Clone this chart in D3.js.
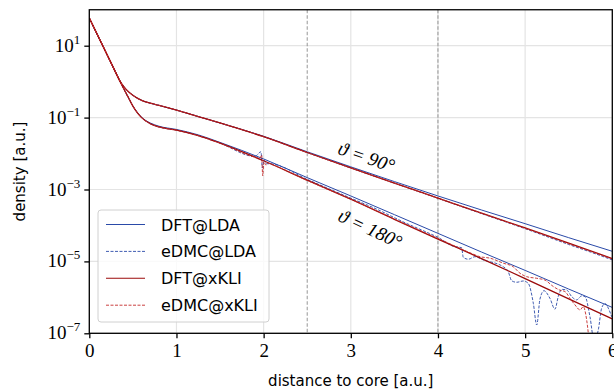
<!DOCTYPE html>
<html>
<head>
<meta charset="utf-8">
<script src="https://cdn.jsdelivr.net/npm/d3@7"></script>
<style>
  body { margin: 0; background: #fff; }
  svg { display: block; }
</style>
</head>
<body>
<svg id="chart" width="614" height="391"></svg>
<script>
// DFT grid (distance to core, a.u.)
const xDft = [0, 0.1, 0.2, 0.3, 0.35, 0.4, 0.45, 0.5, 0.55, 0.6, 0.7, 0.8, 1.0, 1.25, 1.5, 2.0, 2.5, 3.0, 3.5, 4.0, 4.5, 5.0, 5.5, 6.0];

// theta = 90 deg
const dftLda90 = [59, 18.6, 5.89, 1.86, 1.05, 0.708, 0.525, 0.417, 0.347, 0.302, 0.251, 0.219, 0.162, 0.107, 0.0708, 0.0302, 0.0112, 4.27e-3, 1.66e-3, 6.61e-4, 2.69e-4, 1.12e-4, 4.57e-5, 1.91e-5];
const dftKli90 = [59, 18.6, 5.89, 1.86, 1.05, 0.708, 0.525, 0.417, 0.347, 0.302, 0.251, 0.219, 0.162, 0.107, 0.0708, 0.0295, 0.0107, 3.98e-3, 1.51e-3, 5.75e-4, 2.19e-4, 8.51e-5, 3.24e-5, 1.20e-5];
// theta = 180 deg
const dftLda180 = [59, 18.6, 5.89, 1.86, 1.05, 0.603, 0.355, 0.209, 0.141, 0.102, 0.0708, 0.0575, 0.0468, 0.0331, 0.0204, 7.08e-3, 2.14e-3, 6.61e-4, 2.00e-4, 6.03e-5, 1.82e-5, 5.62e-6, 1.70e-6, 5.25e-7];
const dftKli180 = [59, 18.6, 5.89, 1.86, 1.05, 0.603, 0.355, 0.209, 0.138, 0.100, 0.0676, 0.0550, 0.0447, 0.0316, 0.0195, 6.31e-3, 1.82e-3, 5.37e-4, 1.48e-4, 4.17e-5, 1.20e-5, 3.31e-6, 9.12e-7, 2.51e-7];

// eDMC, theta = 90 deg
const xDmc90 = [0, 0.1, 0.2, 0.3, 0.35, 0.4, 0.45, 0.5, 0.55, 0.6, 0.7, 0.8, 1.0, 1.25, 1.5, 2.0, 2.5, 3.0, 3.5, 4.0, 4.5, 5.0, 5.25, 5.5, 5.75, 6.0];
const dmcLda90 = [59, 18.6, 5.89, 1.86, 1.05, 0.708, 0.525, 0.417, 0.347, 0.302, 0.251, 0.219, 0.162, 0.107, 0.0708, 0.0295, 0.0107, 3.98e-3, 1.51e-3, 5.70e-4, 2.14e-4, 8.13e-5, 4.90e-5, 2.95e-5, 1.82e-5, 1.10e-5];
const dmcKli90 = [59, 18.6, 5.89, 1.86, 1.05, 0.708, 0.525, 0.417, 0.347, 0.302, 0.251, 0.219, 0.162, 0.107, 0.0708, 0.0295, 0.0107, 3.98e-3, 1.51e-3, 5.75e-4, 2.19e-4, 8.32e-5, 5.13e-5, 3.09e-5, 1.91e-5, 1.17e-5];

// eDMC@LDA, theta = 180 deg
const xDmcLda180 = [0, 0.1, 0.2, 0.3, 0.35, 0.4, 0.45, 0.5, 0.55, 0.6, 0.7, 0.8, 1.0, 1.25, 1.5, 1.9, 1.97, 1.985, 2.005, 2.03, 2.1, 2.5, 3.0, 3.3, 3.6, 3.9, 4.0, 4.176, 4.272, 4.29, 4.348, 4.425, 4.52, 4.75, 4.807, 4.846, 4.903, 4.979, 5.036, 5.094, 5.133, 5.17, 5.216, 5.285, 5.342, 5.38, 5.419, 5.477, 5.534, 5.591, 5.649, 5.687, 5.744, 5.79, 5.839, 5.878, 5.916, 5.954, 5.993];
const dmcLda180 = [59, 18.6, 5.89, 1.86, 1.05, 0.603, 0.355, 0.209, 0.138, 0.100, 0.0676, 0.0550, 0.0447, 0.0316, 0.0195, 8.32e-3, 1.12e-2, 3.98e-3, 6.61e-3, 5.25e-3, 5.13e-3, 1.91e-3, 5.75e-4, 2.82e-4, 1.26e-4, 6.03e-5, 4.68e-5, 2.63e-5, 2.40e-5, 1.30e-5, 1.15e-5, 1.35e-5, 1.10e-5, 7.08e-6, 5.13e-6, 2.88e-6, 2.63e-6, 2.85e-6, 2.45e-6, 6.84e-7, 1.70e-7, 8.91e-7, 1.53e-6, 9.33e-7, 4.68e-7, 1.05e-6, 1.67e-6, 1.60e-6, 1.05e-6, 8.51e-7, 1.10e-6, 1.05e-6, 2.88e-7, 6.46e-8, 1.23e-7, 5.01e-7, 6.76e-7, 5.01e-7, 2.88e-7];

// eDMC@xKLI, theta = 180 deg
const xDmcKli180 = [0, 0.1, 0.2, 0.3, 0.35, 0.4, 0.45, 0.5, 0.55, 0.6, 0.7, 0.8, 1.0, 1.25, 1.5, 1.9, 1.958, 1.978, 1.989, 2.004, 2.027, 2.053, 2.1, 2.5, 3.0, 3.3, 3.6, 4.0, 4.2, 4.367, 4.482, 4.597, 4.749, 4.864, 4.941, 5.018, 5.133, 5.228, 5.323, 5.40, 5.457, 5.515, 5.572, 5.63, 5.667, 5.706, 5.725, 5.744];
const dmcKli180 = [59, 18.6, 5.89, 1.86, 1.05, 0.603, 0.355, 0.209, 0.138, 0.100, 0.0676, 0.0550, 0.0447, 0.0316, 0.0195, 7.94e-3, 7.41e-3, 9.12e-3, 2.40e-3, 5.89e-3, 4.79e-3, 5.37e-3, 4.90e-3, 1.78e-3, 5.37e-4, 2.51e-4, 1.17e-4, 4.37e-5, 2.63e-5, 1.74e-5, 1.35e-5, 1.23e-5, 8.91e-6, 7.08e-6, 4.68e-6, 3.76e-6, 3.39e-6, 3.02e-6, 2.00e-6, 1.58e-6, 1.45e-6, 9.33e-7, 6.17e-7, 4.47e-7, 5.50e-7, 2.34e-7, 1.0e-7, 3.47e-8];

const xTicks = [0, 1, 2, 3, 4, 5, 6];
const yTickExp = [1, -1, -3, -5, -7];
const vLines = [2.5, 4.0];

const legendLabels = ["DFT@LDA", "eDMC@LDA", "DFT@xKLI", "eDMC@xKLI"];
const annotations = [
  { text: "ϑ = 90°", x: 2.84, y: 1.0e-2, angle: 19 },
  { text: "ϑ = 180°", x: 2.84, y: 1.4e-4, angle: 25 }
];

const blue = "#2a4aa8", red = "#9b0a0a", redDash = "#c42a2a";

const svg = d3.select("#chart");
const pLeft = 89.3, pRight = 612.3, pTop = 9.75, pBottom = 333.3;

const x = d3.scaleLinear().domain([0, 6]).range([pLeft, pRight]);
const y = d3.scaleLog().domain([1e-7, 1e2]).range([pBottom, pTop]);

svg.append("defs").append("clipPath").attr("id", "clip")
  .append("rect").attr("x", pLeft).attr("y", pTop).attr("width", pRight - pLeft).attr("height", pBottom - pTop);

// grid
const grid = svg.append("g");
grid.selectAll(".gx").data(xTicks).enter().append("line")
  .attr("x1", d => x(d)).attr("x2", d => x(d))
  .attr("y1", pTop).attr("y2", pBottom)
  .attr("stroke", "#e4e4e4").attr("stroke-width", 1.2);
grid.selectAll(".gy").data(yTickExp).enter().append("line")
  .attr("x1", pLeft).attr("x2", pRight)
  .attr("y1", d => y(Math.pow(10, d))).attr("y2", d => y(Math.pow(10, d)))
  .attr("stroke", "#e4e4e4").attr("stroke-width", 1.2);

// vertical markers
svg.append("g").selectAll("line").data(vLines).enter().append("line")
  .attr("x1", d => x(d)).attr("x2", d => x(d))
  .attr("y1", pTop).attr("y2", pBottom)
  .attr("stroke", "#8a8a8a").attr("stroke-width", 0.9)
  .attr("stroke-dasharray", "3.5,2");

const line = d3.line().curve(d3.curveMonotoneX);
function series(xs, ys) { return xs.map((v, i) => [x(v), y(ys[i])]); }

const curves = [
  { xs: xDft, ys: dftLda90, color: blue, w: 1.0, dash: null },
  { xs: xDft, ys: dftLda180, color: blue, w: 1.0, dash: null },
  { xs: xDmc90, ys: dmcLda90, color: blue, w: 0.9, dash: "3,1.5" },
  { xs: xDmcLda180, ys: dmcLda180, color: blue, w: 0.9, dash: "3,1.5" },
  { xs: xDft, ys: dftKli90, color: red, w: 1.3, dash: null },
  { xs: xDft, ys: dftKli180, color: red, w: 1.3, dash: null },
  { xs: xDmc90, ys: dmcKli90, color: redDash, w: 0.9, dash: "3,1.5" },
  { xs: xDmcKli180, ys: dmcKli180, color: redDash, w: 0.9, dash: "3,1.5" }
];

svg.append("g").attr("clip-path", "url(#clip)")
  .selectAll("path").data(curves).enter().append("path")
  .attr("d", d => line(series(d.xs, d.ys)))
  .attr("fill", "none")
  .attr("stroke", d => d.color)
  .attr("stroke-width", d => d.w)
  .attr("stroke-dasharray", d => d.dash);

// annotations
svg.append("g").selectAll("text").data(annotations).enter().append("text")
  .attr("transform", d => "translate(" + x(d.x) + "," + y(d.y) + ") rotate(" + d.angle + ")")
  .style("font-family", "'Liberation Serif', 'DejaVu Serif', serif")
  .style("font-style", "italic")
  .style("font-size", "19px")
  .attr("fill", "#000")
  .text(d => d.text);

// frame
svg.append("rect").attr("x", pLeft).attr("y", pTop)
  .attr("width", pRight - pLeft).attr("height", pBottom - pTop)
  .attr("fill", "none").attr("stroke", "#000").attr("stroke-width", 1.3);

// x axis
const xAxis = svg.append("g").attr("transform", "translate(0," + pBottom + ")")
  .call(d3.axisBottom(x).tickValues(xTicks).tickFormat(d3.format("d")).tickSize(5).tickPadding(5));
xAxis.select(".domain").remove();
xAxis.selectAll("line").attr("stroke-width", 1.3);
xAxis.selectAll("text")
  .style("font-family", "'Liberation Serif', serif")
  .style("font-size", "19px");

// y axis
const yAxis = svg.append("g").attr("transform", "translate(" + pLeft + ",0)")
  .call(d3.axisLeft(y).tickValues(yTickExp.map(e => Math.pow(10, e))).tickFormat("").tickSize(5));
yAxis.select(".domain").remove();
yAxis.selectAll("line").attr("stroke-width", 1.3);

const yLab = svg.append("g").selectAll("text").data(yTickExp).enter().append("text")
  .attr("x", pLeft - 9)
  .attr("y", d => y(Math.pow(10, d)) + 6)
  .attr("text-anchor", "end")
  .style("font-family", "'Liberation Serif', serif")
  .style("font-size", "19px");
yLab.append("tspan").text("10");
yLab.append("tspan").attr("dy", -8).style("font-size", "13px")
  .text(d => d < 0 ? "\u2212" + Math.abs(d) : d);

// axis labels
svg.append("text").attr("x", (pLeft + pRight) / 2).attr("y", 386)
  .attr("text-anchor", "middle")
  .style("font-family", "'DejaVu Sans', sans-serif").style("font-size", "15px")
  .text("distance to core [a.u.]");
svg.append("text")
  .attr("transform", "translate(25," + (pTop + pBottom) / 2 + ") rotate(-90)")
  .attr("text-anchor", "middle")
  .style("font-family", "'DejaVu Sans', sans-serif").style("font-size", "15px")
  .text("density [a.u.]");

// legend
const lg = svg.append("g");
lg.append("rect").attr("x", 98).attr("y", 210).attr("width", 171).attr("height", 112)
  .attr("rx", 3).attr("fill", "#fff").attr("fill-opacity", 0.8)
  .attr("stroke", "#d0d0d0").attr("stroke-width", 1);
const legendStyle = [
  { color: blue, w: 1.0, dash: null },
  { color: blue, w: 0.9, dash: "3,1.5" },
  { color: red, w: 1.1, dash: null },
  { color: redDash, w: 0.9, dash: "3,1.5" }
];
const rows = lg.selectAll(".row").data(legendLabels).enter().append("g")
  .attr("transform", (d, i) => "translate(0," + (224.5 + i * 26.9) + ")");
rows.append("line").attr("x1", 106).attr("x2", 145).attr("y1", 0).attr("y2", 0)
  .attr("stroke", (d, i) => legendStyle[i].color)
  .attr("stroke-width", (d, i) => legendStyle[i].w)
  .attr("stroke-dasharray", (d, i) => legendStyle[i].dash);
rows.append("text").attr("x", 161).attr("y", 6)
  .style("font-family", "'DejaVu Sans', sans-serif").style("font-size", "16px")
  .text(d => d);
</script>
</body>
</html>
